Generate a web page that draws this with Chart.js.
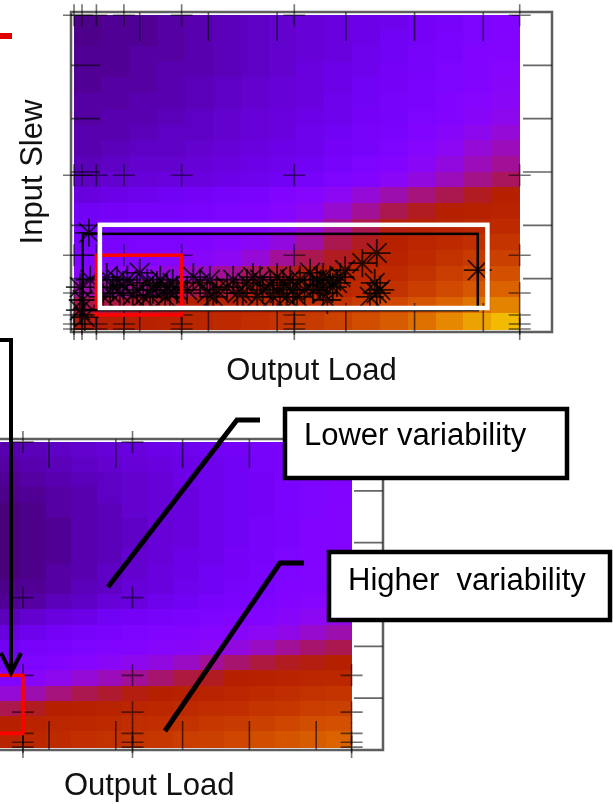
<!DOCTYPE html>
<html>
<head>
<meta charset="utf-8">
<script src="https://cdn.jsdelivr.net/npm/chart.js@4.4.1/dist/chart.umd.min.js"></script>
<style>
  html, body { margin: 0; padding: 0; background: #fff; width: 613px; height: 804px; overflow: hidden; position: relative; }
  canvas { position: absolute; }
  #topChart { left: 0; top: 0; }
  #bottomChart { left: -160px; top: 400px; }
  #notes { position: absolute; left: 0; top: 0; }
</style>
</head>
<body>
<canvas id="topChart" width="613" height="400"></canvas>
<canvas id="bottomChart" width="773" height="410"></canvas>
<svg id="notes" width="613" height="804" viewBox="0 0 613 804">
  <line x1="0" y1="36" x2="12" y2="36" stroke="#e00000" stroke-width="6"/>
  <polyline points="0,340 11,340 11,670" fill="none" stroke="#000" stroke-width="4"/>
  <polyline points="1,653 11,673 21,653" fill="none" stroke="#000" stroke-width="4"/>
  <polyline points="108,587 237,420 260,420" fill="none" stroke="#000" stroke-width="5"/>
  <polyline points="165,731 280,563 304,563" fill="none" stroke="#000" stroke-width="5"/>
  <rect x="285" y="409" width="282" height="69" fill="#fff" stroke="#000" stroke-width="4.5"/>
  <text x="304" y="445" font-family="'Liberation Sans', Arial, sans-serif" font-size="31" fill="#000">Lower variability</text>
  <rect x="329" y="552" width="281" height="68" fill="#fff" stroke="#000" stroke-width="4.5"/>
  <text x="348" y="590" font-family="'Liberation Sans', Arial, sans-serif" font-size="31" fill="#000" style="white-space:pre">Higher  variability</text>
</svg>
<script>
const FONT = "'Liberation Sans', Arial, sans-serif";

// table indices where the cell was characterized (same table for both plots)
const loadIndex = [0.044, 0.16, 0.37, 0.77, 1.61, 3.25, 6.53];
const slewIndex = [0.056, 0.15, 0.32, 0.73, 1.44, 2.94, 5.94];

// operating points seen in the design (top plot, asterisks)
const starLoad = [0.26, 0.13, 0.17, 0.13, 0.28, 0.20, 0.52, 0.61, 0.82, 0.96, 1.00, 1.11, 1.19, 1.30, 1.40, 1.48, 1.54,
  0.71, 0.90, 1.15, 0.57, 1.44, 1.88, 2.02, 2.12, 1.98, 2.27, 2.07, 2.56, 2.65, 2.75, 2.50, 2.79, 2.71, 3.00, 3.09,
  3.19, 3.23, 3.04, 2.94, 3.33, 3.29, 3.48, 3.58, 3.67, 3.77, 3.87, 3.52, 3.67, 3.73, 3.81, 3.92, 4.24, 4.45, 4.42,
  4.45, 4.50, 4.35, 5.92, 0.76, 1.05, 1.25, 1.37, 0.47, 0.67, 1.69, 1.78, 2.36, 2.42, 2.90, 3.14, 3.40, 3.62, 3.99];
const starSlew = [1.86, 0.84, 0.60, 0.41, 0.98, 0.28, 1.03, 0.84, 0.98, 0.79, 1.11, 0.92, 0.79, 0.98, 0.84, 0.92, 0.79,
  0.73, 0.69, 0.69, 0.73, 0.73, 0.92, 0.98, 0.79, 0.73, 0.84, 0.66, 0.92, 1.03, 0.98, 0.73, 0.79, 0.66, 1.03, 0.92,
  0.98, 0.79, 0.73, 0.66, 0.98, 0.66, 1.11, 0.98, 1.03, 0.98, 0.92, 0.79, 0.73, 0.60, 0.84, 1.03, 1.29, 1.48, 0.92,
  0.73, 0.79, 0.66, 1.16, 0.88, 0.66, 0.88, 0.66, 0.66, 0.98, 0.79, 1.03, 0.98, 0.73, 0.88, 0.66, 0.79, 0.88, 1.16];

// heatmap values (palette position, 0-100), first row = highest slew
const topMap = [
  [ 9, 10, 10, 11, 12, 13, 14, 15, 16, 17, 18, 19, 21, 22, 24, 25],
  [ 9, 10, 10, 11, 12, 13, 14, 15, 16, 17, 18, 20, 21, 23, 24, 26],
  [10, 10, 11, 11, 12, 13, 14, 15, 16, 17, 19, 20, 22, 23, 25, 26],
  [10, 10, 11, 12, 12, 13, 14, 15, 17, 18, 19, 21, 22, 24, 25, 27],
  [10, 11, 11, 12, 13, 14, 15, 16, 17, 18, 20, 21, 23, 24, 26, 28],
  [11, 11, 12, 12, 13, 14, 15, 16, 17, 19, 20, 22, 23, 25, 27, 29],
  [11, 12, 12, 13, 14, 15, 16, 17, 18, 19, 21, 22, 24, 26, 28, 31],
  [12, 12, 13, 14, 14, 15, 16, 17, 19, 20, 22, 23, 25, 28, 31, 34],
  [12, 13, 14, 14, 15, 16, 17, 18, 19, 21, 22, 24, 27, 30, 34, 37],
  [13, 14, 15, 15, 16, 17, 18, 19, 20, 22, 24, 26, 29, 33, 37, 40],
  [14, 15, 16, 17, 17, 18, 19, 20, 22, 24, 26, 29, 33, 37, 41, 44],
  [17, 18, 19, 20, 21, 22, 23, 25, 27, 30, 34, 38, 42, 45, 48, 50],
  [20, 21, 22, 22, 23, 24, 25, 27, 30, 35, 40, 45, 48, 50, 51, 52],
  [22, 22, 23, 23, 24, 25, 26, 29, 34, 40, 45, 49, 51, 52, 54, 55],
  [23, 23, 24, 24, 25, 27, 29, 33, 39, 45, 48, 51, 53, 55, 57, 59],
  [25, 25, 26, 27, 28, 30, 34, 40, 45, 48, 50, 52, 55, 58, 61, 63],
  [28, 29, 31, 33, 36, 40, 44, 47, 49, 51, 53, 55, 58, 62, 65, 68],
  [38, 39, 41, 43, 45, 47, 49, 50, 51, 53, 55, 58, 62, 66, 70, 73],
  [45, 46, 47, 48, 50, 51, 52, 54, 56, 58, 61, 65, 69, 73, 77, 80],
  [49, 50, 51, 52, 53, 55, 57, 59, 61, 64, 67, 71, 76, 81, 86, 90]
];
const bottomMap = [
  [12, 13, 14, 15, 16, 17, 18, 19, 20, 21, 22, 23, 24, 25],
  [11, 12, 13, 14, 15, 16, 17, 18, 19, 20, 22, 23, 24, 25],
  [10, 11, 12, 13, 14, 15, 16, 18, 19, 20, 21, 23, 24, 25],
  [ 9, 10, 11, 12, 14, 15, 16, 17, 19, 20, 21, 23, 24, 25],
  [ 8,  9, 11, 12, 13, 15, 16, 17, 19, 20, 21, 23, 24, 26],
  [ 8,  9, 10, 12, 13, 14, 16, 17, 19, 20, 22, 23, 25, 26],
  [ 8,  9, 10, 12, 13, 14, 16, 17, 19, 20, 22, 23, 25, 26],
  [ 8,  9, 10, 12, 13, 15, 16, 18, 19, 21, 22, 24, 25, 27],
  [ 8,  9, 11, 12, 14, 15, 17, 18, 20, 21, 23, 24, 26, 27],
  [ 9, 10, 11, 13, 14, 16, 17, 19, 20, 22, 23, 25, 26, 28],
  [10, 11, 13, 14, 16, 17, 19, 20, 22, 23, 24, 26, 27, 29],
  [13, 15, 17, 18, 20, 21, 22, 23, 24, 25, 26, 28, 30, 32],
  [17, 19, 21, 22, 23, 24, 25, 26, 27, 28, 30, 32, 35, 38],
  [20, 22, 23, 24, 25, 26, 27, 28, 30, 33, 36, 40, 43, 45],
  [22, 24, 26, 27, 29, 31, 33, 36, 40, 43, 46, 48, 49, 50],
  [25, 28, 31, 34, 37, 40, 43, 46, 48, 50, 51, 52, 53, 54],
  [34, 38, 42, 45, 47, 49, 50, 51, 52, 53, 55, 56, 58, 59],
  [45, 48, 50, 51, 52, 53, 54, 55, 56, 57, 59, 60, 62, 63],
  [50, 52, 53, 54, 55, 56, 57, 58, 60, 61, 63, 65, 67, 68],
  [52, 54, 55, 57, 58, 59, 60, 62, 63, 65, 67, 69, 71, 73]
];
const bottomLoadStart = 1.2; // only this part of the lower map is on the page

// gnuplot's default pm3d palette (rgbformulae 7,5,15)
function paletteColor(p) {
  const v = p / 100;
  const r = Math.sqrt(v), g = v * v * v, b = Math.max(0, Math.sin(2 * Math.PI * v));
  return 'rgb(' + Math.round(r * 255) + ',' + Math.round(g * 255) + ',' + Math.round(b * 255) + ')';
}

const gridPoints = [];
slewIndex.forEach(s => loadIndex.forEach(l => gridPoints.push({x: l, y: s})));
const starPoints = starLoad.map((l, i) => ({x: l, y: starSlew[i]}));

const heatmapPlugin = {
  id: 'heatmap',
  beforeDatasetsDraw(chart, args, opts) {
    const {ctx, chartArea: a, scales: {x, y}} = chart;
    const rows = opts.values, ny = rows.length, nx = rows[0].length;
    const dx = (opts.x1 - opts.x0) / nx, dy = (opts.y1 - opts.y0) / ny;
    ctx.save();
    for (let j = 0; j < ny; j++) {
      const yt = Math.floor(y.getPixelForValue(opts.y1 - j * dy));
      const yb = Math.ceil(y.getPixelForValue(opts.y1 - (j + 1) * dy));
      for (let i = 0; i < nx; i++) {
        const xl = Math.floor(x.getPixelForValue(opts.x0 + i * dx));
        const xr = Math.ceil(x.getPixelForValue(opts.x0 + (i + 1) * dx));
        ctx.fillStyle = paletteColor(rows[j][i]);
        ctx.fillRect(xl, yt, xr - xl, yb - yt);
      }
    }
    // border with inward ticks on all four sides
    ctx.strokeStyle = 'rgba(0,0,0,0.6)';
    ctx.lineWidth = 1.6;
    const len = 29;
    ctx.beginPath();
    for (let v = x.min + 1; v < x.max; v++) {
      const px = x.getPixelForValue(v);
      ctx.moveTo(px, a.top); ctx.lineTo(px, a.top + len);
      ctx.moveTo(px, a.bottom); ctx.lineTo(px, a.bottom - len);
    }
    for (let v = y.min + 1; v < y.max; v++) {
      const py = y.getPixelForValue(v);
      ctx.moveTo(a.left, py); ctx.lineTo(a.left + len, py);
      ctx.moveTo(a.right, py); ctx.lineTo(a.right - len, py);
    }
    ctx.stroke();
    ctx.strokeStyle = 'rgba(40,40,40,0.75)';
    ctx.lineWidth = 2.5;
    ctx.strokeRect(a.left, a.top, a.right - a.left, a.bottom - a.top);
    ctx.restore();
  }
};

const boxesPlugin = {
  id: 'boxes',
  afterDatasetsDraw(chart, args, opts) {
    const {ctx, scales: {x, y}} = chart;
    ctx.save();
    (opts.list || []).forEach(b => {
      const x0 = x.getPixelForValue(b.x[0]), x1 = x.getPixelForValue(b.x[1]);
      const y0 = y.getPixelForValue(b.y[1]), y1 = y.getPixelForValue(b.y[0]);
      ctx.strokeStyle = b.color;
      ctx.lineWidth = b.width;
      ctx.strokeRect(x0, y0, x1 - x0, y1 - y0);
    });
    ctx.restore();
  }
};

function scalesFor(xTitleTop) {
  const title = (text, padding) => ({
    display: true, text: text, color: '#111', padding: padding,
    font: {family: FONT, size: 31}
  });
  return {
    x: {
      type: 'linear', min: 0, max: 7,
      grid: {display: false, drawTicks: false}, border: {display: false}, ticks: {display: false},
      title: title('Output Load', {top: xTitleTop, bottom: 2})
    },
    y: {
      type: 'linear', min: 0, max: 6,
      grid: {display: false, drawTicks: false}, border: {display: false}, ticks: {display: false},
      title: title('Input Slew', {top: 14, bottom: 19})
    }
  };
}

const gridSet = {
  data: gridPoints, pointStyle: 'cross', radius: 11, borderWidth: 1.6,
  borderColor: 'rgba(0,0,0,0.55)', clip: false
};

// selected region (red), shared by both plots
const selLoad = [loadIndex[2], loadIndex[4]];
const selSlew = [slewIndex[2], slewIndex[4]];

new Chart(document.getElementById('topChart'), {
  type: 'scatter',
  data: {
    datasets: [
      gridSet,
      {data: starPoints, pointStyle: 'star', radius: 14, borderWidth: 1.8,
       borderColor: 'rgba(0,0,0,0.78)', clip: false}
    ]
  },
  options: {
    responsive: false, animation: false, events: [], devicePixelRatio: 1,
    layout: {autoPadding: false, padding: {left: 0.8, right: 61, top: 12, bottom: 7.8}},
    scales: scalesFor(21),
    plugins: {
      legend: {display: false}, tooltip: {enabled: false},
      heatmap: {values: topMap, x0: loadIndex[0], x1: loadIndex[6], y0: slewIndex[0], y1: slewIndex[6]},
      boxes: {list: [
        {x: selLoad, y: selSlew, color: '#ff0000', width: 3.5},
        {x: [0.17, 5.92], y: [0.41, 1.84], color: '#000', width: 2.5},
        {x: [0.42, 6.06], y: [0.45, 2.01], color: '#fff', width: 4.5}
      ]}
    }
  },
  plugins: [heatmapPlugin, boxesPlugin]
});

new Chart(document.getElementById('bottomChart'), {
  type: 'scatter',
  data: {datasets: [Object.assign({}, gridSet)]},
  options: {
    responsive: false, animation: false, events: [], devicePixelRatio: 1,
    layout: {autoPadding: false, padding: {left: 5.2, right: 230, top: 39, bottom: 2.8}},
    scales: scalesFor(18),
    plugins: {
      legend: {display: false}, tooltip: {enabled: false},
      heatmap: {values: bottomMap, x0: bottomLoadStart, x1: loadIndex[6], y0: slewIndex[0], y1: slewIndex[6]},
      boxes: {list: [
        {x: selLoad, y: selSlew, color: '#ff0000', width: 3.5}
      ]}
    }
  },
  plugins: [heatmapPlugin, boxesPlugin]
});
</script>
</body>
</html>
